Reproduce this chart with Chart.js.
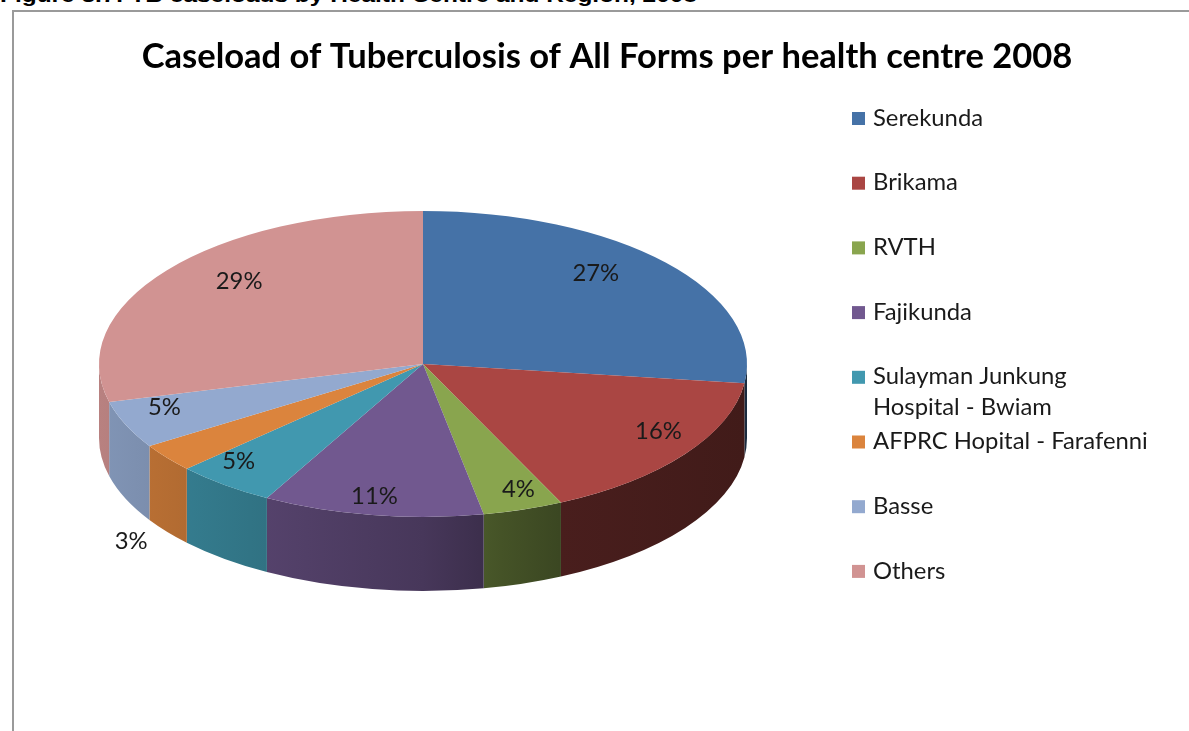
<!DOCTYPE html>
<html><head><meta charset="utf-8">
<script src="https://cdn.jsdelivr.net/npm/chart.js@4"></script>
<style>
html,body{margin:0;padding:0;background:#fff;width:1189px;height:731px;overflow:hidden;}
#hdr{position:absolute;left:0;top:-15px;font:bold 20px/20px 'Liberation Sans Narrow','Liberation Sans',Arial,sans-serif;white-space:nowrap;transform-origin:0 0;color:#000;}
#frame{position:absolute;left:12px;top:10px;width:1200px;height:800px;border:2px solid #9a9a9a;box-sizing:border-box;}
#c{position:absolute;left:0;top:0;}
</style></head><body>
<div id="hdr">Figure 3.7: TB caseloads by Health Centre and Region, 2008</div>
<div id="frame"></div>
<canvas id="c" width="1189" height="731"></canvas>
<script>
const titleText = 'Caseload of Tuberculosis of All Forms per health centre 2008';
const categories = ['Serekunda', 'Brikama', 'RVTH', 'Fajikunda', ['Sulayman Junkung', 'Hospital - Bwiam'], 'AFPRC Hopital - Farafenni', 'Basse', 'Others'];
const values = [27, 16, 4, 11, 5, 3, 5, 29];
const valueLabels = ['27%', '16%', '4%', '11%', '5%', '3%', '5%', '29%'];
const colors = ['#4572A7', '#AA4643', '#89A54E', '#71588F', '#4198AF', '#DB843D', '#93A9CF', '#D19392'];

// header width fit
(function(){
  const h = document.getElementById('hdr');
  const w = h.getBoundingClientRect().width;
  h.style.transform = 'scaleX(' + (697 / w) + ')';
})();

const FONT = "Lato, 'Open Sans', sans-serif";
const K = 153 / 324;     // vertical squash of the top face
const CY = 364;          // screen y of top-face centre
const DEPTH = 74;        // side wall height

function hexToRgb(h){ const n = parseInt(h.slice(1),16); return [(n>>16)&255,(n>>8)&255,n&255]; }
function shade(hex, f){ const c = hexToRgb(hex); return 'rgb(' + c.map(v=>Math.round(v*f)).join(',') + ')'; }
const sidePts = [[0,0.88],[0.233,0.76],[0.5,0.63],[0.62,0.5],[0.71,0.43],[1,0.38]];

const pie3d = {
  id: 'pie3d',
  beforeDatasetsDraw(chart){
    const ctx = chart.ctx;
    const meta = chart.getDatasetMeta(0);
    const a0 = meta.data[0];
    const cx = a0.x, cyu = a0.y, R = a0.outerRadius, ry = R * K;
    meta.data.forEach((arc, i) => {
      const a = Math.max(arc.startAngle, 0), b = Math.min(arc.endAngle, Math.PI);
      if (b <= a) return;
      const g = ctx.createLinearGradient(cx - R, 0, cx + R, 0);
      sidePts.forEach(p => g.addColorStop(p[0], shade(colors[i], p[1])));
      ctx.beginPath();
      ctx.ellipse(cx, CY, R, ry, 0, a, b, false);
      ctx.ellipse(cx, CY + DEPTH, R, ry, 0, b, a, true);
      ctx.closePath();
      ctx.fillStyle = g;
      ctx.fill();
    });
    ctx.save();
    ctx.setTransform(1, 0, 0, K, 0, CY - cyu * K);
  },
  afterDatasetsDraw(chart){
    const ctx = chart.ctx;
    ctx.restore();
    const meta = chart.getDatasetMeta(0);
    const a0 = meta.data[0];
    const cx = a0.x, R = a0.outerRadius, ry = R * K;
    ctx.save();
    ctx.font = chart.$fs + 'px ' + FONT;
    ctx.fillStyle = '#1a1a1a';
    ctx.textAlign = 'center';
    ctx.textBaseline = 'middle';
    meta.data.forEach((arc, i) => {
      const m = (arc.startAngle + arc.endAngle) / 2;
      const c = Math.cos(m), s = Math.sin(m);
      let x, y;
      if (values[i] < 4) {
        x = cx + 1.14 * R * c;
        y = CY + DEPTH + 1.1 * ry * s;
      } else {
        const fx = 0.81 + 0.15 * s;
        const fy = 0.88 - 0.2 * c * c - 0.2 * Math.min(s, 0);
        x = cx + fx * R * c;
        y = CY + fy * ry * s;
      }
      ctx.fillText(valueLabels[i], x, y);
    });
    ctx.restore();
  },
  afterDraw(chart){
    const ctx = chart.ctx;
    ctx.save();
    // title
    ctx.font = 'bold 30px ' + FONT;
    const tw = ctx.measureText(titleText).width;
    const ts = 30 * 931 / tw;
    ctx.font = 'bold ' + ts.toFixed(2) + 'px ' + FONT;
    ctx.fillStyle = '#000';
    ctx.textAlign = 'center';
    ctx.textBaseline = 'middle';
    ctx.fillText(titleText, 607, 57);
    // legend
    ctx.font = chart.$fs + 'px ' + FONT;
    ctx.textAlign = 'left';
    categories.forEach((lab, i) => {
      const y = 118 + i * 64.7;
      ctx.fillStyle = colors[i];
      ctx.fillRect(852, y - 6, 13, 13);
      ctx.fillStyle = '#1a1a1a';
      const lines = Array.isArray(lab) ? lab : [lab];
      lines.forEach((ln, j) => ctx.fillText(ln, 873, y + j * 31));
    });
    ctx.restore();
  }
};

const canvas = document.getElementById('c');
const mctx = canvas.getContext('2d');
mctx.font = '20px ' + FONT;
const fs = 20 * 275 / mctx.measureText('AFPRC Hopital - Farafenni').width;

const chart = new Chart(canvas, {
  type: 'pie',
  data: {
    labels: categories,
    datasets: [{ data: values, backgroundColor: colors, borderWidth: 0, clip: false }]
  },
  options: {
    responsive: false,
    animation: false,
    events: [],
    layout: { padding: { left: 99, right: 442, top: 41, bottom: 42 } },
    plugins: { legend: { display: false }, title: { display: false }, tooltip: { enabled: false } }
  },
  plugins: [{ id: 'fs', beforeInit(c){ c.$fs = fs; } }, pie3d]
});
</script>
</body></html>
